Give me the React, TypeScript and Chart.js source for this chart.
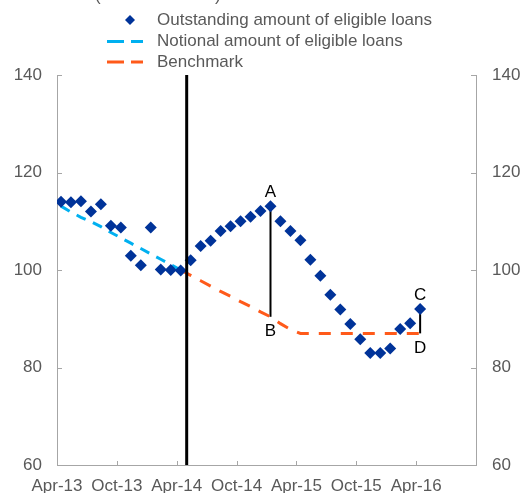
import React, { useEffect, useRef } from "react";
import { Chart, registerables } from "chart.js";

Chart.register(...registerables);

// ---------- DATA ----------
const months = [
  "Apr-13", "May-13", "Jun-13", "Jul-13", "Aug-13", "Sep-13", "Oct-13", "Nov-13", "Dec-13",
  "Jan-14", "Feb-14", "Mar-14", "Apr-14", "May-14", "Jun-14", "Jul-14", "Aug-14", "Sep-14",
  "Oct-14", "Nov-14", "Dec-14", "Jan-15", "Feb-15", "Mar-15", "Apr-15", "May-15", "Jun-15",
  "Jul-15", "Aug-15", "Sep-15", "Oct-15", "Nov-15", "Dec-15", "Jan-16", "Feb-16", "Mar-16",
  "Apr-16",
];

const outstanding = [
  114.0, 113.9, 114.1, 112.0, 113.5, 109.1, 108.7, 102.9, 101.0, 108.7, 100.1, 100.0, 99.9,
  102.0, 104.9, 106.0, 108.0, 109.0, 110.0, 110.9, 112.1, 113.1, 110.0, 108.0, 106.1, 102.1,
  98.8, 94.9, 91.9, 88.9, 85.8, 83.0, 83.0, 83.9, 87.9, 89.1, 92.0,
];

// Apr-13 .. Apr-14
const notional = [113.1, 111.9, 110.8, 109.9, 108.9, 107.7, 106.6, 105.5, 104.4, 103.3, 102.2, 101.1, 100.0];

// Apr-14 .. Apr-16
const benchmarkStart = "Apr-14";
const benchmark = [
  100.0, 98.9, 97.8, 96.7, 95.6, 94.6, 93.5, 92.5, 91.4, 90.4, 89.0, 87.8, 87.0,
  87.0, 87.0, 87.0, 87.0, 87.0, 87.0, 87.0, 87.0, 87.0, 87.0, 87.0, 87.0,
];

const xTickLabels = ["Apr-13", "Oct-13", "Apr-14", "Oct-14", "Apr-15", "Oct-15", "Apr-16", ""];
const yTicks = [60, 80, 100, 120, 140];

const seriesNames = [
  "Outstanding amount of eligible loans",
  "Notional amount of eligible loans",
  "Benchmark",
];

const policyMonth = "May-14";
const gapAB = { month: "Jan-15", top: "A", bottom: "B" };
const gapCD = { month: "Apr-16", top: "C", bottom: "D" };

// ---------- STYLE ----------
const X_OFFSET = 0.4; // monthly points sit slightly after the month tick
const FONT = "'Liberation Sans', Arial, Helvetica, sans-serif";
const TEXT = "#595959";
const AXIS = "#a6a6a6";
const BLUE = "#003399";
const CYAN = "#00b0f0";
const ORANGE = "#ff5a1a";

export default function App() {
  const ref = useRef<HTMLCanvasElement | null>(null);

  useEffect(() => {
    if (!ref.current) return;
    const bStart = months.indexOf(benchmarkStart);
    const outData = outstanding.map((v, i) => ({ x: i, y: v }));
    const notData = notional.map((v, i) => ({ x: i, y: v }));
    const benData = benchmark.map((v, i) => ({ x: i + bStart, y: v }));
    const tickValues = xTickLabels.map((_, j) => j * 6 - X_OFFSET);

    const benchAt = (i: number) => benchmark[i - bStart];

    const overlay = {
      id: "overlay",
      beforeDatasetsDraw(chart: any) {
        const { ctx, scales } = chart;
        const x = scales.x, y = scales.y;
        ctx.save();
        ctx.strokeStyle = "#000";
        ctx.lineWidth = 2;
        for (const g of [gapAB, gapCD]) {
          const i = months.indexOf(g.month);
          const px = x.getPixelForValue(i);
          ctx.beginPath();
          ctx.moveTo(px, y.getPixelForValue(outstanding[i]));
          ctx.lineTo(px, y.getPixelForValue(benchAt(i)));
          ctx.stroke();
        }
        ctx.restore();
      },
      afterDatasetsDraw(chart: any) {
        const { ctx, scales, chartArea } = chart;
        const x = scales.x, y = scales.y;
        ctx.save();
        // policy line
        const px = x.getPixelForValue(months.indexOf(policyMonth) - X_OFFSET);
        ctx.strokeStyle = "#000";
        ctx.lineWidth = 3;
        ctx.beginPath();
        ctx.moveTo(px, chartArea.top);
        ctx.lineTo(px, chartArea.bottom);
        ctx.stroke();
        // letters
        ctx.fillStyle = "#000";
        ctx.font = `17px ${FONT}`;
        ctx.textAlign = "center";
        ctx.textBaseline = "middle";
        for (const g of [gapAB, gapCD]) {
          const i = months.indexOf(g.month);
          const gx = x.getPixelForValue(i);
          ctx.fillText(g.top, gx, y.getPixelForValue(outstanding[i]) - 14);
          ctx.fillText(g.bottom, gx, y.getPixelForValue(benchAt(i)) + 15);
        }
        ctx.restore();
      },
      afterDraw(chart: any) {
        const { ctx, scales, chartArea } = chart;
        const x = scales.x, y = scales.y;
        ctx.save();
        // inward tick marks
        ctx.strokeStyle = AXIS;
        ctx.lineWidth = 1;
        ctx.beginPath();
        for (const v of yTicks) {
          const py = Math.round(y.getPixelForValue(v)) + 0.5;
          ctx.moveTo(chartArea.left, py);
          ctx.lineTo(chartArea.left + 5, py);
          ctx.moveTo(chartArea.right - 5, py);
          ctx.lineTo(chartArea.right, py);
        }
        for (const v of tickValues) {
          const pxx = Math.round(x.getPixelForValue(v)) + 0.5;
          ctx.moveTo(pxx, chartArea.bottom - 4);
          ctx.lineTo(pxx, chartArea.bottom);
        }
        ctx.stroke();

        // legend
        ctx.font = `17px ${FONT}`;
        ctx.textAlign = "left";
        ctx.textBaseline = "middle";
        const rows = [20, 41.5, 62];
        ctx.fillStyle = TEXT;
        seriesNames.forEach((n, k) => ctx.fillText(n, 157, rows[k]));
        // diamond
        ctx.fillStyle = BLUE;
        ctx.beginPath();
        ctx.moveTo(130, rows[0] - 5);
        ctx.lineTo(135, rows[0]);
        ctx.lineTo(130, rows[0] + 5);
        ctx.lineTo(125, rows[0]);
        ctx.closePath();
        ctx.fill();
        // dashes
        ctx.lineWidth = 3;
        [[CYAN, rows[1]], [ORANGE, rows[2]]].forEach(([c, ry]: any) => {
          ctx.strokeStyle = c;
          ctx.beginPath();
          ctx.moveTo(107, ry);
          ctx.lineTo(124, ry);
          ctx.moveTo(131, ry);
          ctx.lineTo(143, ry);
          ctx.stroke();
        });
        // cut-off unit label parentheses at very top
        ctx.fillStyle = TEXT;
        ctx.textBaseline = "alphabetic";
        ctx.fillText("(", 95, 1);
        ctx.fillText(")", 215, 1);
        ctx.restore();
      },
    };

    const chart = new Chart(ref.current, {
      type: "line",
      data: {
        datasets: [
          {
            label: seriesNames[0],
            data: outData,
            showLine: false,
            pointStyle: "rectRot",
            pointRadius: 6,
            pointBackgroundColor: BLUE,
            pointBorderColor: BLUE,
            pointBorderWidth: 0,
            borderColor: BLUE,
            backgroundColor: BLUE,
          },
          {
            label: seriesNames[1],
            data: notData,
            borderColor: CYAN,
            borderWidth: 3,
            borderDash: [10, 8],
            pointRadius: 0,
            fill: false,
          },
          {
            label: seriesNames[2],
            data: benData,
            borderColor: ORANGE,
            borderWidth: 3,
            borderDash: [12, 10],
            pointRadius: 0,
            fill: false,
          },
        ],
      } as any,
      options: {
        responsive: false,
        animation: false,
        layout: { padding: { top: 75, left: 0, right: 0, bottom: 0 } },
        plugins: { legend: { display: false }, tooltip: { enabled: false }, title: { display: false } },
        scales: {
          x: {
            type: "linear",
            position: "bottom",
            min: -X_OFFSET,
            max: 42 - X_OFFSET,
            grid: { display: false },
            border: { display: true, color: AXIS, width: 1 },
            afterBuildTicks: (s: any) => {
              s.ticks = tickValues.map((v) => ({ value: v }));
            },
            afterFit: (s: any) => {
              s.height = 28;
            },
            ticks: {
              autoSkip: false,
              maxRotation: 0,
              padding: 3,
              color: TEXT,
              font: { family: FONT, size: 17 },
              callback: (_v: any, idx: number) => xTickLabels[idx],
            },
          },
          y: {
            type: "linear",
            position: "left",
            min: 60,
            max: 140,
            grid: { display: false, drawTicks: false },
            border: { display: true, color: AXIS, width: 1 },
            afterFit: (s: any) => {
              s.width = 57;
            },
            ticks: {
              stepSize: 20,
              padding: 15,
              color: TEXT,
              font: { family: FONT, size: 17 },
            },
          },
          y2: {
            type: "linear",
            position: "right",
            min: 60,
            max: 140,
            grid: { display: false, drawTicks: false },
            border: { display: true, color: AXIS, width: 1 },
            afterFit: (s: any) => {
              s.width = 45;
            },
            ticks: {
              stepSize: 20,
              padding: 16,
              color: TEXT,
              font: { family: FONT, size: 17 },
            },
          },
        },
      } as any,
      plugins: [overlay],
    });
    return () => chart.destroy();
  }, []);

  return (
    <div style={{ position: "absolute", left: 0, top: 0, width: 521, height: 493, background: "#fff" }}>
      <canvas ref={ref} width={521} height={493} style={{ display: "block" }} />
    </div>
  );
}
